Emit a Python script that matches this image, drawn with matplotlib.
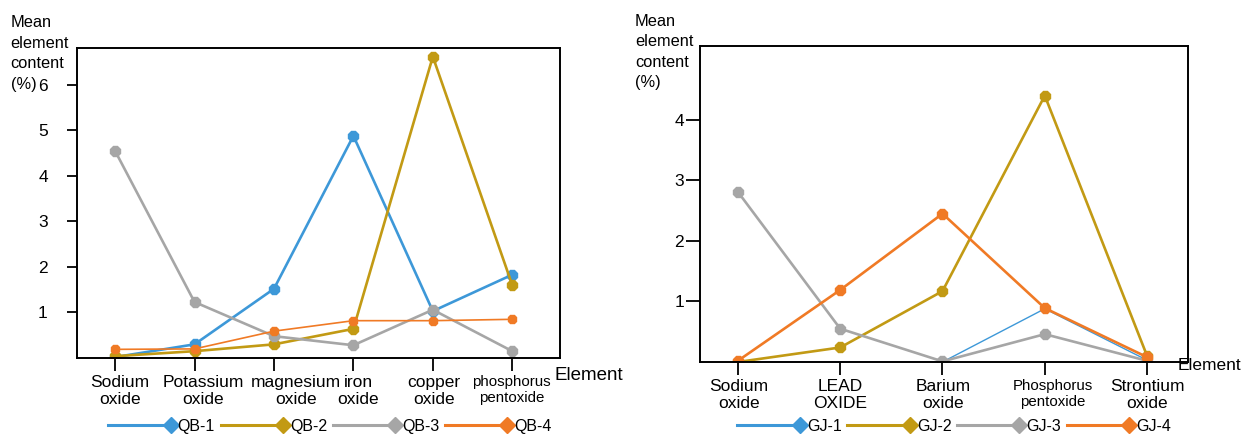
import matplotlib

matplotlib.use("Agg")
import matplotlib.pyplot as plt
from matplotlib.legend_handler import HandlerLine2D
from matplotlib.lines import Line2D
from matplotlib.transforms import ScaledTranslation

plt.rcParams["font.family"] = ["Liberation Sans", "DejaVu Sans"]

# left panel: QB samples
qb_categories = [
    "Sodium\noxide",
    "Potassium\noxide",
    "magnesium\noxide",
    "iron\noxide",
    "copper\noxide",
    "phosphorus\npentoxide",
]
qb_labels = ["QB-1", "QB-2", "QB-3", "QB-4"]
qb1 = [0.02, 0.30, 1.52, 4.88, 1.03, 1.83]
qb2 = [0.04, 0.15, 0.30, 0.64, 6.62, 1.60]
qb3 = [4.55, 1.23, 0.48, 0.28, 1.06, 0.15]
qb4 = [0.19, 0.20, 0.59, 0.82, 0.82, 0.85]
qb_yticks = [1, 2, 3, 4, 5, 6]

# right panel: GJ samples
gj_categories = [
    "Sodium\noxide",
    "LEAD\nOXIDE",
    "Barium\noxide",
    "Phosphorus\npentoxide",
    "Strontium\noxide",
]
gj_labels = ["GJ-1", "GJ-2", "GJ-3", "GJ-4"]
gj1 = [0.0, 0.0, 0.0, 0.88, 0.03]
gj2 = [0.0, 0.24, 1.17, 4.40, 0.10]
gj3 = [2.81, 0.55, 0.01, 0.46, 0.02]
gj4 = [0.02, 1.19, 2.45, 0.89, 0.08]
gj_yticks = [1, 2, 3, 4]

COLORS = ["#3d98d8", "#c29a14", "#a6a6a6", "#f07a25"]


class EndMarkerHandler(HandlerLine2D):
    """Legend line with the marker sitting at its right end."""

    def create_artists(self, legend, orig_handle, xdescent, ydescent, width, height, fontsize, trans):
        artists = super().create_artists(
            legend, orig_handle, xdescent, ydescent, width, height, fontsize, trans
        )
        for artist in artists:
            artist.set_markevery([len(artist.get_xdata()) - 1])
        return artists


def style_axes(ax, categories, yticks, ylim, small_labels, label_shift_px, ytick_len, ytick_pad):
    ax.set_xticks(range(len(categories)))
    ax.set_xticklabels(categories, fontsize=12.5, linespacing=1.2)
    ax.set_yticks(yticks)
    ax.set_ylim(*ylim)
    ax.tick_params(axis="y", direction="out", length=ytick_len, width=1.3, pad=ytick_pad, labelsize=12.5)
    ax.tick_params(axis="x", direction="out", length=9, width=1.3, pad=3)
    # nudge the category labels sideways like in the original figure
    for idx, (label, shift) in enumerate(zip(ax.get_xticklabels(), label_shift_px)):
        if idx in small_labels:
            label.set_fontsize(10.8)
        offset = ScaledTranslation(shift / 100, 0, fig.dpi_scale_trans)
        label.set_transform(label.get_transform() + offset)
    for spine in ax.spines.values():
        spine.set_linewidth(1.4)
        spine.set_color("black")


def draw_series(ax, series, widths, sizes, markers):
    x = range(len(series[0]))
    for values, color, lw, ms, marker in zip(series, COLORS, widths, sizes, markers):
        ax.plot(x, values, color=color, linewidth=lw, marker=marker, markersize=ms)


fig = plt.figure(figsize=(12.41, 4.34), dpi=100)

ax1 = fig.add_axes([0.0620, 0.1751, 0.3892, 0.7143])
draw_series(ax1, [qb1, qb2, qb3, qb4], [1.9, 1.9, 1.9, 1.2], [8.5, 8.5, 8.5, 6], ["8", "8", "8", "8"])
style_axes(
    ax1, qb_categories, qb_yticks, (0, 6.81), small_labels=[5],
    label_shift_px=[5, 9, 22, 5, 1, -1], ytick_len=7, ytick_pad=14,
)
ax1.set_xlim(-0.48, 5.6)

ax2 = fig.add_axes([0.5641, 0.1659, 0.3932, 0.7281])
draw_series(ax2, [gj1, gj2, gj3, gj4], [1.0, 1.9, 1.9, 1.9], [0, 8.5, 8.5, 8.5], [None, "8", "8", "8"])
style_axes(
    ax2, gj_categories, gj_yticks, (0, 5.22), small_labels=[3],
    label_shift_px=[1, 0, 1, 8, 0], ytick_len=10, ytick_pad=1.5,
)
ax2.set_xlim(-0.37, 4.4)

# y-axis caption sits above the tick labels; "(%)" shares a row with the top tick
for x_left, y_block, y_unit in [(0.0085, 1 - 43 / 434, 1 - 84 / 434), (0.5115, 1 - 42 / 434, 1 - 83 / 434)]:
    fig.text(x_left, y_block, "Mean\nelement\ncontent", fontsize=11.8, linespacing=1.45,
             ha="left", va="center")
    fig.text(x_left, y_unit, "(%)", fontsize=11.8, ha="left", va="center")
fig.text(0.447, 1 - 376 / 434, "Element", fontsize=13.5, ha="left", va="center")
fig.text(0.949, 1 - 366 / 434, "Element", fontsize=12.5, ha="left", va="center")

for labels, x_center in [(qb_labels, 0.266), (gj_labels, 0.769)]:
    handles = [
        Line2D([], [], color=color, linewidth=2.2, marker="D", markersize=8.5)
        for color in COLORS
    ]
    fig.legend(
        handles,
        labels,
        loc="center",
        bbox_to_anchor=(x_center, 0.018),
        ncol=4,
        frameon=False,
        fontsize=11.5,
        handlelength=3.9,
        handletextpad=0.45,
        columnspacing=0.35,
        borderpad=0,
        borderaxespad=0,
        handler_map={Line2D: EndMarkerHandler()},
    )

fig.savefig("out.png", dpi=100)
plt.close(fig)
